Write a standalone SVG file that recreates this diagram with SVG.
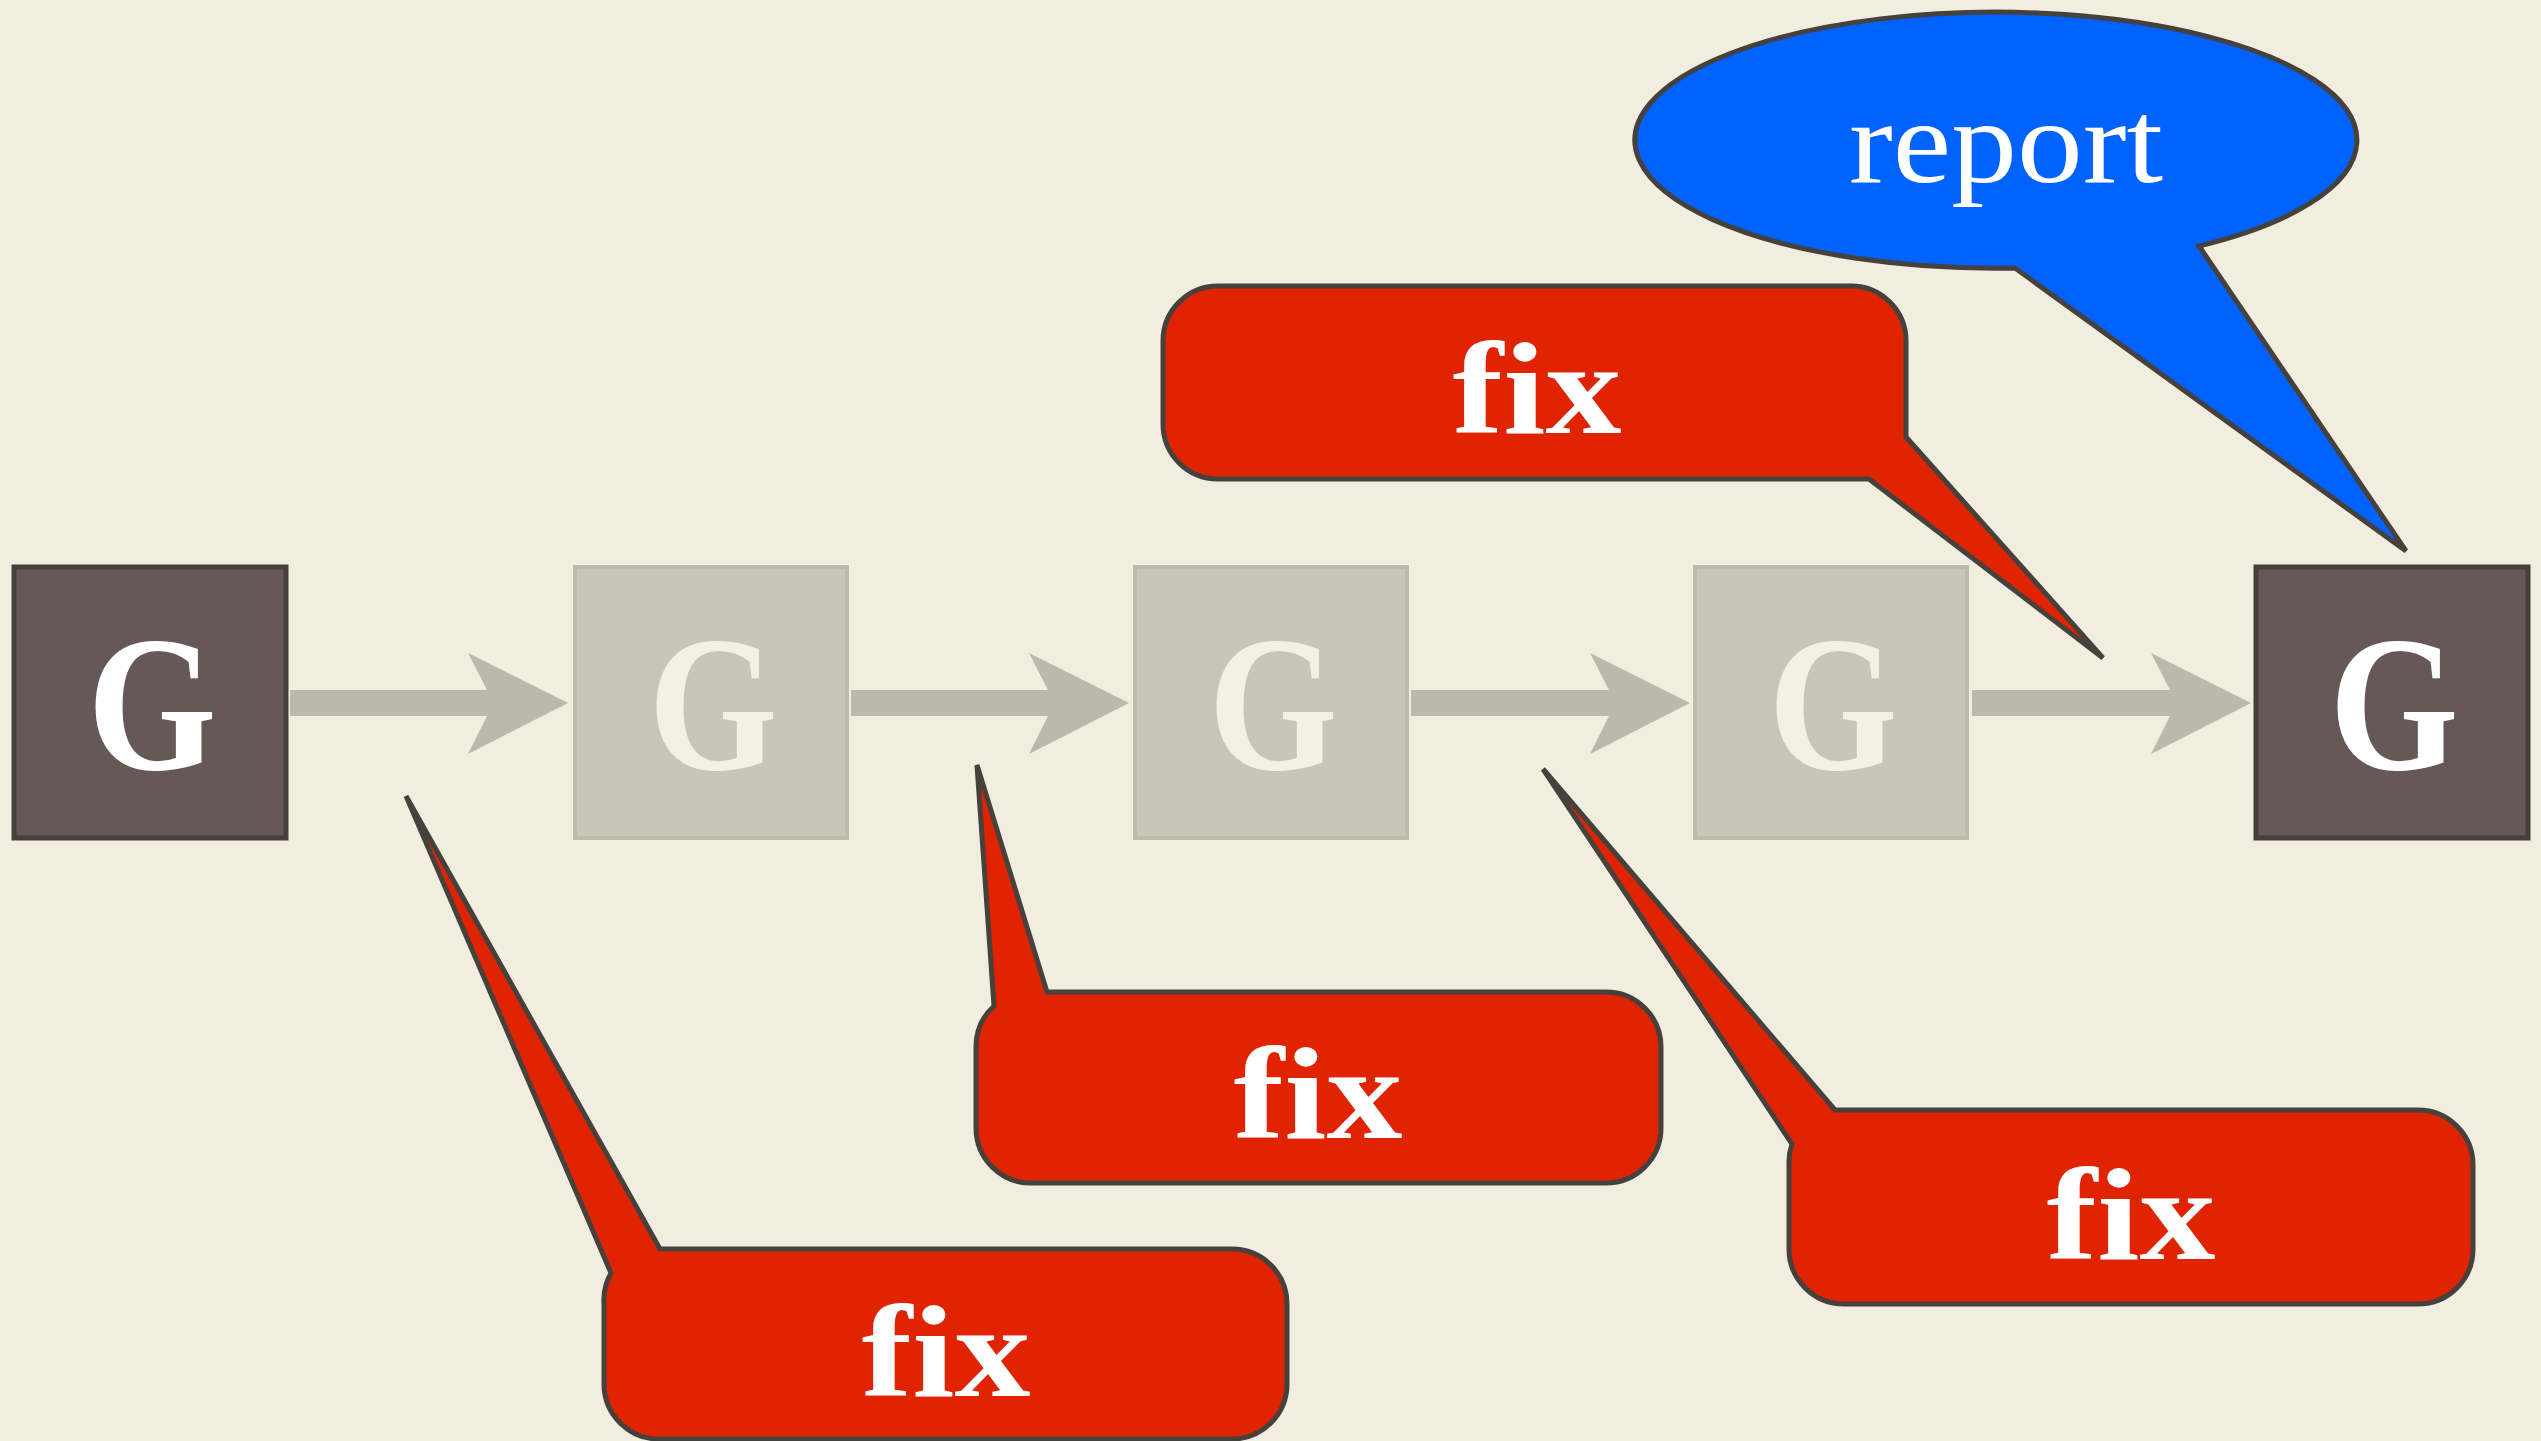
<svg xmlns="http://www.w3.org/2000/svg" width="2541" height="1441" viewBox="0 0 2541 1441">
<style>
.bg{fill:#f2eddf}
.dark{fill:#665856;stroke:#46403d;stroke-width:5}
.light{fill:#cbc4b8;stroke:#c0baad;stroke-width:4}
.arrow{fill:#bcb8ab}
.fixb{fill:#e02300;stroke:#47413e;stroke-width:5;stroke-linejoin:miter}
.rep{fill:#0062ff;stroke:#47413e;stroke-width:5}
text{text-anchor:middle;font-family:"Liberation Serif","Times New Roman",serif}
.g{font-weight:700;font-size:192px}
.fx{font-weight:700;font-size:132px;fill:#ffffff}
</style>
<rect class="bg" x="0" y="0" width="2541" height="1441"/>
<g id="connectors">
<polygon class="arrow" points="290,690 487,690 468,653 568,703 468,754 487,716 290,716"/>
<polygon class="arrow" points="851,690 1048,690 1029,653 1129,703 1029,754 1048,716 851,716"/>
<polygon class="arrow" points="1411,690 1609,690 1590,653 1690,703 1590,754 1609,716 1411,716"/>
<polygon class="arrow" points="1972,690 2170,690 2151,653 2251,703 2151,754 2170,716 1972,716"/>
</g>
<g id="node-g1">
<rect class="dark" x="14" y="567" width="272" height="271"/>
<text class="g" x="152" y="769" fill="#ffffff" textLength="129" lengthAdjust="spacingAndGlyphs">G</text>
</g>
<g id="node-g2">
<rect class="light" x="575" y="567" width="272" height="271"/>
<text class="g" x="713" y="769" fill="#f5f0e4" textLength="129" lengthAdjust="spacingAndGlyphs">G</text>
</g>
<g id="node-g3">
<rect class="light" x="1135" y="567" width="272" height="271"/>
<text class="g" x="1273" y="769" fill="#f5f0e4" textLength="129" lengthAdjust="spacingAndGlyphs">G</text>
</g>
<g id="node-g4">
<rect class="light" x="1695" y="567" width="272" height="271"/>
<text class="g" x="1833" y="769" fill="#f5f0e4" textLength="129" lengthAdjust="spacingAndGlyphs">G</text>
</g>
<g id="node-g5">
<rect class="dark" x="2256" y="567" width="272" height="271"/>
<text class="g" x="2394" y="769" fill="#ffffff" textLength="129" lengthAdjust="spacingAndGlyphs">G</text>
</g>
<g id="callout-report">
<path class="rep" d="M2199,246 L2406,551 L2015,268 A361 128 0 1 1 2199,246 Z"/>
<text x="2006" y="182" font-size="118" fill="#ffffff" textLength="314" lengthAdjust="spacingAndGlyphs">report</text>
</g>
<g id="callout-fix-top">
<path class="fixb" d="M1218,286 H1851 A55 55 0 0 1 1906,341 V437 L2103,658 L1869,479 H1218 A55 55 0 0 1 1163,424 V341 A55 55 0 0 1 1218,286 Z"/>
<text class="fx" x="1537" y="433" textLength="169" lengthAdjust="spacingAndGlyphs">fix</text>
</g>
<g id="callout-fix-mid">
<path class="fixb" d="M1047,992 H1606 A55 55 0 0 1 1661,1047 V1128 A55 55 0 0 1 1606,1183 H1031 A55 55 0 0 1 976,1128 V1047 A55 55 0 0 1 994,1006 L977,765 Z"/>
<text class="fx" x="1318" y="1138" textLength="169" lengthAdjust="spacingAndGlyphs">fix</text>
</g>
<g id="callout-fix-left">
<path class="fixb" d="M660,1249 H1232 A55 55 0 0 1 1287,1304 V1384 A55 55 0 0 1 1232,1439 H659 A55 55 0 0 1 604,1384 V1304 A55 55 0 0 1 611,1273 L406,796 Z"/>
<text class="fx" x="946" y="1396" textLength="169" lengthAdjust="spacingAndGlyphs">fix</text>
</g>
<g id="callout-fix-right">
<path class="fixb" d="M1835,1110 H2418 A55 55 0 0 1 2473,1165 V1249 A55 55 0 0 1 2418,1304 H1844 A55 55 0 0 1 1789,1249 V1165 A55 55 0 0 1 1792,1144 L1543,769 Z"/>
<text class="fx" x="2131" y="1259" textLength="169" lengthAdjust="spacingAndGlyphs">fix</text>
</g>
</svg>
